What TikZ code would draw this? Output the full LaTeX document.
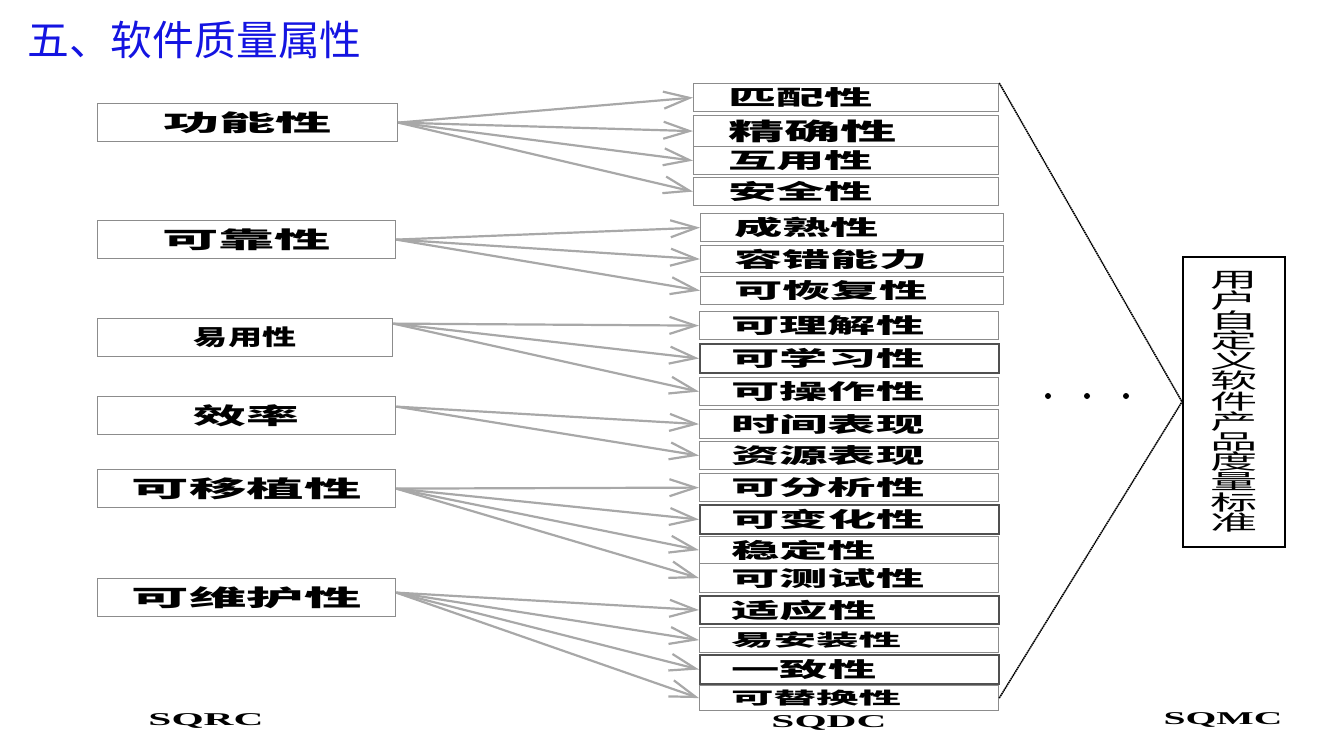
\documentclass[tikz,border=0pt]{standalone}
\usepackage{fontspec}
\usepackage{graphicx}
\setmainfont{Liberation Serif}
\newfontfamily\cjk{Noto Sans CJK SC}
\usetikzlibrary{arrows.meta}

\definecolor{titleblue}{RGB}{20,20,225}
\definecolor{boxgray}{RGB}{140,140,140}
\definecolor{darkbox}{RGB}{80,80,80}
\definecolor{arrowgray}{RGB}{168,168,168}

\newcommand\stretchx[2]{\scalebox{#1}[1]{#2}}

\tikzset{
  attrbox/.style={draw=boxgray, line width=1.2, minimum width=300, minimum height=38,
    inner sep=0, anchor=north west, font=\cjk\bfseries\fontsize{23}{26}\selectfont},
  subbox/.style={draw=boxgray, line width=1.2, minimum width=299, minimum height=28,
    inner sep=0, anchor=north west, text width=236, align=left,
    font=\cjk\bfseries\fontsize{21}{24}\selectfont},
  thickbox/.style={subbox, draw=darkbox, line width=2},
  fan/.style={draw=arrowgray, line width=2.2, -{Straight Barb[length=26pt,width=17pt]}},
  link/.style={draw=black, line width=1.5, dash pattern=on 1.6pt off 0.6pt},
  level/.style={font=\bfseries\fontsize{18}{20}\selectfont, inner sep=0}
}

\begin{document}
\begin{tikzpicture}[x=1pt, y=-1pt]
\useasboundingbox (0,0) rectangle (1334,753);

% title
\node[anchor=west, inner sep=0, text=titleblue, font=\cjk\fontsize{41}{44}\selectfont]
  (title) at (27,40) {\stretchx{1.02}{五、软件质量属性}};

% SQRC
\node[attrbox] (gongneng) at (97,103) {\stretchx{2.45}{功能性}};
\node[attrbox, minimum width=298] (kekao) at (97,220) {\stretchx{2.45}{可靠性}};
\node[attrbox, minimum width=295, font=\cjk\bfseries\fontsize{22}{24}\selectfont]
  (yiyong) at (97,318) {\stretchx{1.55}{易用性}};
\node[attrbox, minimum width=298] (xiaolv) at (97,396) {\stretchx{2.3}{效率}};
\node[attrbox, minimum width=298] (yizhixing) at (97,469) {\stretchx{2.5}{可移植性}};
\node[attrbox, minimum width=298] (weihu) at (97,578) {\stretchx{2.5}{可维护性}};

% SQDC
\node[subbox, minimum width=305] (pipei) at (693,83) {\stretchx{2.3}{匹配性}};
\node[subbox, minimum width=305, minimum height=31, font=\cjk\bfseries\fontsize{24}{26}\selectfont]
  (jingque) at (693,115) {\stretchx{2.35}{精确性}};
\node[subbox, minimum width=305] (huyong) at (693,146) {\stretchx{2.3}{互用性}};
\node[subbox, minimum width=305] (anquan) at (693,177) {\stretchx{2.3}{安全性}};
\node[subbox, minimum width=303] (chengshu) at (700,213) {\stretchx{2.3}{成熟性}};
\node[subbox, minimum width=303, minimum height=27] (rongcuo) at (700,245) {\stretchx{2.3}{容错能力}};
\node[subbox, minimum width=303] (huifu) at (700,276) {\stretchx{2.3}{可恢复性}};
\node[subbox] (lijie) at (699,311) {\stretchx{2.3}{可理解性}};
\node[thickbox, minimum height=29] (xuexi) at (699,343) {\stretchx{2.3}{可学习性}};
\node[subbox] (caozuo) at (699,377) {\stretchx{2.3}{可操作性}};
\node[subbox, minimum height=29] (shijian) at (699,409) {\stretchx{2.3}{时间表现}};
\node[subbox] (ziyuan) at (699,441) {\stretchx{2.3}{资源表现}};
\node[subbox] (fenxi) at (699,473) {\stretchx{2.3}{可分析性}};
\node[thickbox, minimum height=29] (bianhua) at (699,504) {\stretchx{2.3}{可变化性}};
\node[subbox, minimum height=27] (wending) at (699,536) {\stretchx{2.3}{稳定性}};
\node[subbox, minimum height=29] (ceshi) at (699,563) {\stretchx{2.3}{可测试性}};
\node[thickbox] (shiying) at (699,595) {\stretchx{2.3}{适应性}};
\node[subbox, minimum height=25, font=\cjk\bfseries\fontsize{17}{19}\selectfont]
  (anzhuang) at (699,627) {\stretchx{2.5}{易安装性}};
\node[thickbox, minimum height=29] (yizhi) at (699,654) {\stretchx{2.3}{一致性}};
\node[subbox, minimum height=25, font=\cjk\bfseries\fontsize{17}{19}\selectfont]
  (tihuan) at (699,685) {\stretchx{2.5}{可替换性}};

% SQMC
\node[draw=black, line width=1.5, minimum width=102, minimum height=290, inner sep=0,
  anchor=north west, font=\cjk\fontsize{21}{20.2}\selectfont] (custom) at (1182,256)
  {\stretchx{2.25}{\parbox{22pt}{\centering 用\\户\\自\\定\\义\\软\\件\\产\\品\\度\\量\\标\\准}}};

% levels
\node[level] (sqrc) at (206,721) {\stretchx{2.3}{SQRC}};
\node[level] (sqdc) at (829,723) {\stretchx{2.3}{SQDC}};
\node[level] (sqmc) at (1223,720) {\stretchx{2.2}{SQMC}};

% fans
\draw[fan] (gongneng.east) -- (pipei.west);
\draw[fan] (gongneng.east) -- (jingque.west);
\draw[fan] (gongneng.east) -- (huyong.west);
\draw[fan] (gongneng.east) -- (anquan.west);
\draw[fan] (kekao.east) -- (chengshu.west);
\draw[fan] (kekao.east) -- (rongcuo.west);
\draw[fan] (kekao.east) -- (huifu.west);
\draw[fan] ([yshift=14pt]yiyong.east) -- (lijie.west);
\draw[fan] ([yshift=14pt]yiyong.east) -- (xuexi.west);
\draw[fan] ([yshift=14pt]yiyong.east) -- (caozuo.west);
\draw[fan] ([yshift=9pt]xiaolv.east) -- (shijian.west);
\draw[fan] ([yshift=9pt]xiaolv.east) -- (ziyuan.west);
\draw[fan] (yizhixing.east) -- (fenxi.west);
\draw[fan] (yizhixing.east) -- (bianhua.west);
\draw[fan] (yizhixing.east) -- (wending.west);
\draw[fan] (yizhixing.east) -- (ceshi.west);
\draw[fan] ([yshift=5pt]weihu.east) -- (shiying.west);
\draw[fan] ([yshift=5pt]weihu.east) -- (anzhuang.west);
\draw[fan] ([yshift=5pt]weihu.east) -- (yizhi.west);
\draw[fan] ([yshift=5pt]weihu.east) -- (tihuan.west);

% links to SQMC
\draw[link] (pipei.north east) -- (custom.west);
\draw[link] (tihuan.east) -- (custom.west);
\fill (1048,396) circle (3);
\fill (1087,396) circle (3);
\fill (1126,396) circle (3);
\end{tikzpicture}
\end{document}
